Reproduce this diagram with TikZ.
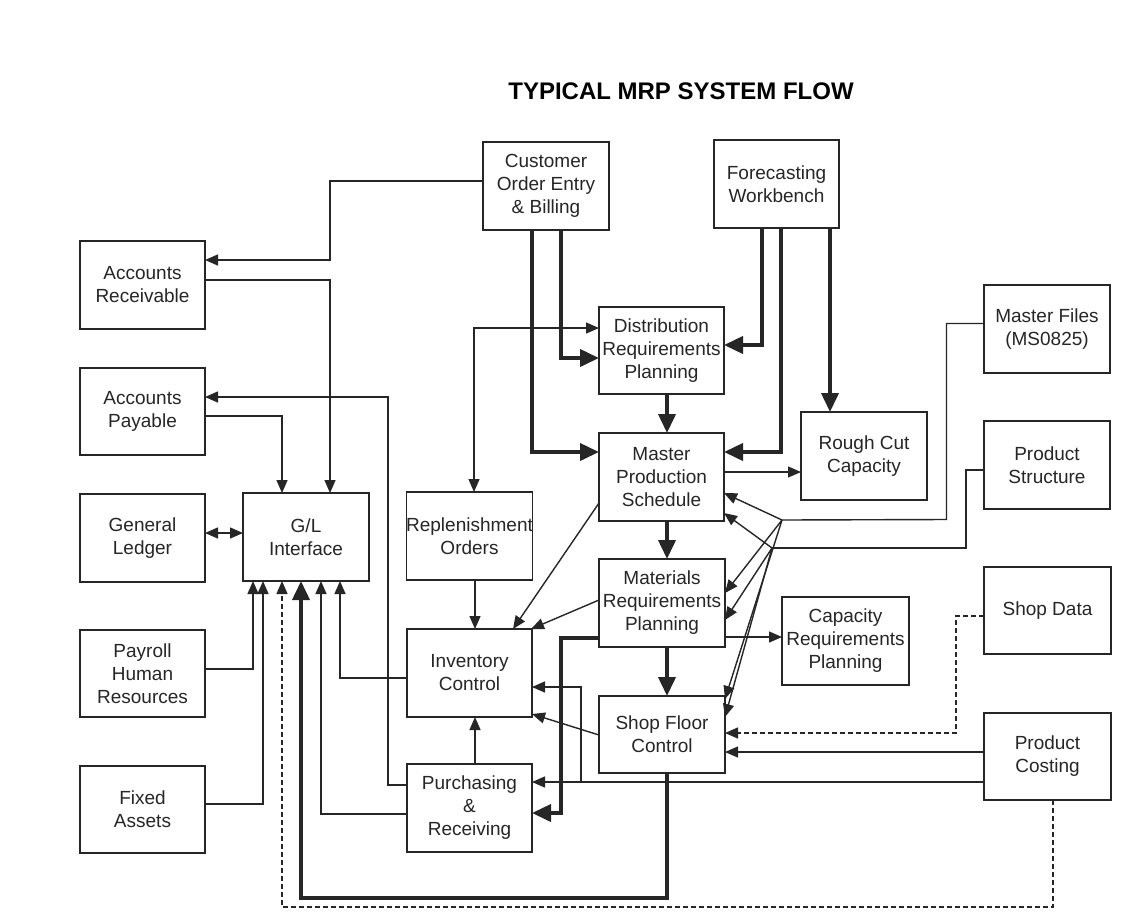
\documentclass[tikz,border=0pt]{standalone}
\usepackage{fontspec}
\setmainfont{Liberation Sans}
\usetikzlibrary{arrows.meta}
\definecolor{ink}{HTML}{262626}
\begin{document}
\begin{tikzpicture}[x=1pt,y=-1pt,
  box/.style={draw=ink,line width=1.2pt,inner sep=0pt,outer sep=0pt,align=center,
    text=ink,font=\fontsize{19}{23}\selectfont,minimum width=125pt,minimum height=88pt},
  conn/.style={draw=ink,line width=1.4pt,-{Triangle[length=13pt,width=11pt]}},
  conn2/.style={draw=ink,line width=1.4pt,{Triangle[length=13pt,width=11pt]}-{Triangle[length=13pt,width=11pt]}},
  wire/.style={draw=ink,line width=1.4pt},
  thk/.style={draw=ink,line width=3.8pt,-{Triangle[length=19pt,width=17pt]}},
  dsh/.style={dashed,dash pattern=on 5pt off 3pt}
]
\useasboundingbox[fill=white] (0,0) rectangle (1145,911);

\node[text=black,font=\fontsize{24}{28}\selectfont\bfseries] (title) at (681,91) {TYPICAL MRP SYSTEM FLOW};

% left column
\node[box] (AR) at (142.5,285) {Accounts\\Receivable};
\node[box,minimum height=87pt] (AP) at (142.5,411.5) {Accounts\\Payable};
\node[box] (GL) at (142.5,538) {General\\Ledger};
\node[box,minimum height=87pt] (PAY) at (142.5,673.5) {Payroll\\Human\\Resources};
\node[box,minimum height=87pt] (FA) at (142.5,809.5) {Fixed\\Assets};
\node[box,minimum width=126pt] (GLI) at (306,537) {G/L\\Interface};

% center
\node[box,minimum width=126pt] (COE) at (546,186) {Customer\\Order Entry\\\& Billing};
\node[box] (FW) at (776.5,184) {Forecasting\\Workbench};
\node[box,minimum height=87pt] (DRP) at (661.5,350.5) {Distribution\\Requirements\\Planning};
\node[box] (MPS) at (661.5,477) {Master\\Production\\Schedule};
\node[box] (REP) at (469.5,536) {Replenishment\\Orders};
\node[box,minimum width=126pt] (MRP) at (662,603) {Materials\\Requirements\\Planning};
\node[box] (IC) at (469.5,673) {Inventory\\Control};
\node[box,minimum width=126pt,minimum height=77pt] (SFC) at (662,734.5) {Shop Floor\\Control};
\node[box] (PR) at (469.5,808) {Purchasing\\\&\\Receiving};

% right
\node[box,minimum width=126pt] (RCC) at (864,456) {Rough Cut\\Capacity};
\node[box,minimum width=126pt] (MF) at (1047,329) {Master Files\\(MS0825)};
\node[box,minimum width=126pt] (PS) at (1047,465) {Product\\Structure};
\node[box,minimum width=127pt] (CRP) at (845.5,641) {Capacity\\Requirements\\Planning};
\node[box,minimum width=127pt,minimum height=87pt] (SD) at (1047.5,610.5) {Shop Data};
\node[box,minimum width=127pt,minimum height=87pt] (PC) at (1047.5,756.5) {Product\\Costing};

\coordinate (P1) at (782,520);
\coordinate (P2) at (772,548);
\coordinate (J1) at (581,782);

% left side connectors
\draw[conn] (COE.west |- 0,181) -| (330,260) -- (AR.east |- 0,260);
\draw[conn] (AR.east |- 0,280) -| (GLI.north -| 330,0);
\draw[conn] (AP.east |- 0,416) -| (GLI.north -| 282,0);
\draw[conn] (PR.west |- 0,785) -| (388,397) -- (AP.east |- 0,397);
\draw[conn2] (GL.east |- 0,533) -- (GLI.west |- 0,533);
\draw[conn] (PAY.east |- 0,669) -| (GLI.south -| 253,0);
\draw[conn] (FA.east |- 0,804) -| (GLI.south -| 263,0);
\draw[conn] (IC.west |- 0,678) -| (GLI.south -| 340,0);
\draw[conn] (PR.west |- 0,814) -| (GLI.south -| 321,0);
\draw[thk] (SFC.south -| 667,0) |- (301,898) -- (GLI.south -| 301,0);
\draw[conn,dsh] (PC.south -| 1053,0) |- (282,907) -- (GLI.south -| 282,0);

% replenishment / DRP
\draw[conn2] (REP.north -| 474,0) |- (DRP.west |- 0,328);
\draw[conn] (REP.south -| 475,0) -- (IC.north -| 475,0);
\draw[conn] (PR.north -| 475,0) -- (IC.south -| 475,0);

% thick flows
\draw[thk] (COE.south -| 561,0) |- (DRP.west |- 0,358);
\draw[thk] (COE.south -| 532,0) |- (MPS.west |- 0,452);
\draw[thk] (FW.south -| 762,0) |- (DRP.east |- 0,345);
\draw[thk] (FW.south -| 781,0) |- (MPS.east |- 0,452);
\draw[thk] (FW.south -| 830,0) -- (RCC.north -| 830,0);
\draw[thk] (DRP.south -| 667,0) -- (MPS.north -| 667,0);
\draw[thk] (MPS.south -| 667,0) -- (MRP.north -| 667,0);
\draw[thk] (MRP.south -| 667,0) -- (SFC.north -| 667,0);
\draw[thk] (MRP.west |- 0,638) -| (561,813) -- (PR.east |- 0,813);

% thin right-side flows
\draw[conn] (MPS.east |- 0,472) -- (RCC.west |- 0,472);
\draw[conn] (MRP.east |- 0,637) -- (CRP.west |- 0,637);
\draw[wire] (MF.west |- 0,323.5) -| (946.5,519.5) -- (P1);
\draw[wire] (PS.west |- 0,470) -| (966,548) -- (P2);
\draw[conn] (P1) -- (MPS.east |- 0,493);
\draw[conn] (P1) -- (MRP.east |- 0,593);
\draw[conn] (P1) -- (SFC.east |- 0,699);
\draw[conn] (P2) -- (MPS.east |- 0,513);
\draw[conn] (P2) -- (MRP.east |- 0,620);
\draw[conn] (P2) -- (SFC.east |- 0,717);
\draw[conn,dsh] (SD.west |- 0,616) -| (956,733) -- (SFC.east |- 0,733);
\draw[conn] (PC.west |- 0,752) -- (SFC.east |- 0,752);
\draw[conn] (PC.west |- 0,782) -- (PR.east |- 0,782);
\draw[conn] (J1) |- (IC.east |- 0,687);

% to inventory control
\draw[conn] (SFC.west |- 0,735) -- (IC.east |- 0,714);
\draw[conn] (MPS.west |- 0,503) -- (IC.north -| 513,0);
\draw[conn] (MRP.west |- 0,600) -- (IC.north -| 531,0);
\end{tikzpicture}
\end{document}
